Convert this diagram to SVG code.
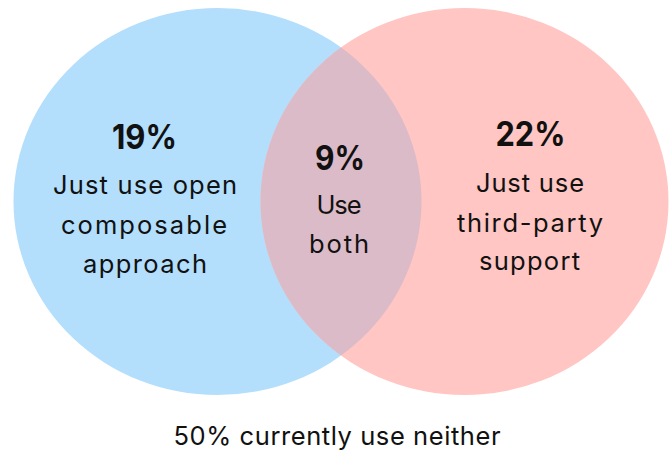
<svg xmlns="http://www.w3.org/2000/svg" width="672" height="454" viewBox="0 0 672 454">
  <style>
    text { font-family: Inter, "Liberation Sans", Arial, sans-serif; fill: #111111; text-anchor: middle; }
    .pct { font-size: 34px; font-weight: 700; }
    .lbl { font-size: 25.5px; font-weight: 400; }
  </style>
  <defs>
    <clipPath id="blueClip">
      <ellipse cx="217.5" cy="201.5" rx="204" ry="193.5"/>
    </clipPath>
  </defs>
  <rect width="672" height="454" fill="#ffffff"/>
  <g id="set-open">
    <ellipse cx="217.5" cy="201.5" rx="204" ry="193.5" fill="#b3defc"/>
  </g>
  <g id="set-thirdparty">
    <ellipse cx="464.5" cy="201.5" rx="204" ry="193.5" fill="#ffc6c3"/>
  </g>
  <g id="set-both">
    <ellipse cx="464.5" cy="201.5" rx="204" ry="193.5" fill="#dbbbc7" clip-path="url(#blueClip)"/>
  </g>
  <g id="label-open">
    <text class="pct" x="144.5" y="149" textLength="65" lengthAdjust="spacingAndGlyphs">19%</text>
    <text class="lbl" x="145" y="194" textLength="184" lengthAdjust="spacing">Just use open</text>
    <text class="lbl" x="144" y="234" textLength="166" lengthAdjust="spacing">composable</text>
    <text class="lbl" x="145" y="273" textLength="124" lengthAdjust="spacing">approach</text>
  </g>
  <g id="label-both">
    <text class="pct" x="340" y="169.5" textLength="50" lengthAdjust="spacingAndGlyphs">9%</text>
    <text class="lbl" x="339" y="214" textLength="45" lengthAdjust="spacing">Use</text>
    <text class="lbl" x="339" y="252.5" textLength="60" lengthAdjust="spacing">both</text>
  </g>
  <g id="label-thirdparty">
    <text class="pct" x="530.5" y="146" textLength="70" lengthAdjust="spacingAndGlyphs">22%</text>
    <text class="lbl" x="530" y="191.5" textLength="108" lengthAdjust="spacing">Just use</text>
    <text class="lbl" x="530" y="231.5" textLength="146" lengthAdjust="spacing">third-party</text>
    <text class="lbl" x="529.5" y="269.5" textLength="101" lengthAdjust="spacing">support</text>
  </g>
  <g id="label-neither">
    <text class="lbl" x="337" y="445" textLength="327" lengthAdjust="spacing">50% currently use neither</text>
  </g>
  <g id="connectors"/>
</svg>
